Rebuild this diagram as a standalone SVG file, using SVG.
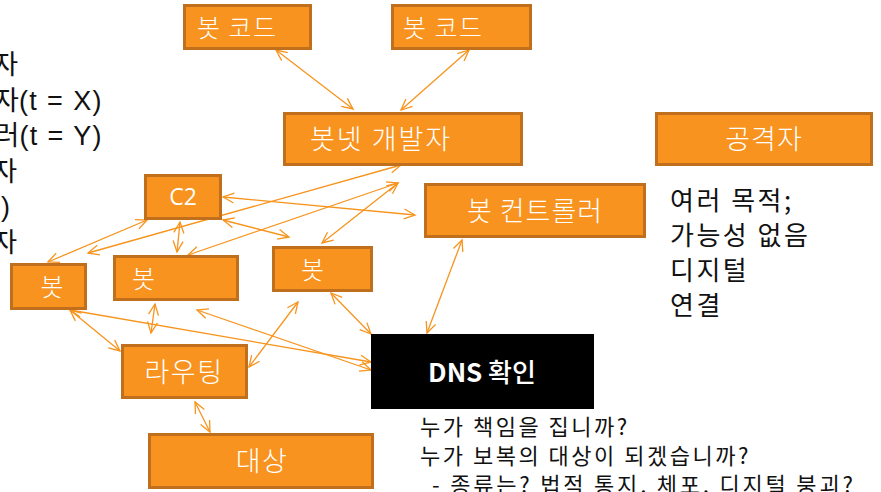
<svg xmlns="http://www.w3.org/2000/svg" width="881" height="492" viewBox="0 0 881 492">
<defs>
<marker id="ah" markerUnits="userSpaceOnUse" markerWidth="14" markerHeight="12" refX="11" refY="5" orient="auto-start-reverse" overflow="visible">
<path d="M0,0 L11,5 L0,10" fill="none" stroke="#F7941D" stroke-width="1.3"/>
</marker>
<style>
.box{fill:#F7931E;stroke:#C06F1C;stroke-width:3}
.lbl{fill:#FFFFFF;font-family:"Noto Sans CJK KR","Noto Sans",sans-serif;font-weight:300}
.blk{fill:#111111;font-family:"Noto Sans CJK KR","Noto Sans",sans-serif}
.side{fill:#111111;font-family:"Liberation Sans","Noto Sans CJK KR",sans-serif;font-size:27px}
.con line{stroke:#F7941D;stroke-width:1.3;fill:none;marker-start:url(#ah);marker-end:url(#ah)}
</style>
</defs>
<rect width="881" height="492" fill="#FFFFFF"/>

<g id="side-text">
<text class="side" x="18" y="74" text-anchor="end">자</text>
<text class="side" x="103" y="109.5" text-anchor="end">자<tspan letter-spacing="1.4">(t = X)</tspan></text>
<text class="side" x="103" y="145" text-anchor="end">러<tspan letter-spacing="1.4">(t = Y)</tspan></text>
<text class="side" x="17" y="180.5" text-anchor="end">자</text>
<text class="side" x="10" y="216" text-anchor="end">)</text>
<text class="side" x="17" y="251.5" text-anchor="end">자</text>
</g>

<g id="connectors" class="con">
<line x1="276" y1="50" x2="353" y2="109"/>
<line x1="469" y1="50" x2="401" y2="110"/>
<line x1="401" y1="165" x2="88" y2="253"/>
<line x1="398" y1="183" x2="188" y2="255"/>
<line x1="398" y1="183" x2="322" y2="243"/>
<line x1="223" y1="197" x2="415" y2="215"/>
<line x1="223" y1="220" x2="289" y2="237"/>
<line x1="180" y1="222" x2="177" y2="252"/>
<line x1="147" y1="220" x2="48" y2="262"/>
<line x1="70" y1="310" x2="120" y2="351"/>
<line x1="70" y1="310" x2="371" y2="362"/>
<line x1="197" y1="310" x2="371" y2="370"/>
<line x1="155" y1="304" x2="151" y2="333"/>
<line x1="298" y1="302" x2="249" y2="367"/>
<line x1="331" y1="293" x2="371" y2="334"/>
<line x1="462" y1="240" x2="427" y2="333"/>
<line x1="195" y1="402" x2="210" y2="432"/>
</g>

<g id="botcode1">
<rect class="box" x="184.5" y="5.5" width="126" height="43"/>
<text class="lbl" x="197" y="36.5" font-size="25" letter-spacing="1.5">봇 코드</text>
</g>
<g id="botcode2">
<rect class="box" x="392.5" y="5.5" width="138" height="43"/>
<text class="lbl" x="403" y="36.5" font-size="25" letter-spacing="1.5">봇 코드</text>
</g>
<g id="botnet-dev">
<rect class="box" x="284.5" y="113.5" width="237" height="51"/>
<text class="lbl" x="310" y="149" font-size="27" letter-spacing="2">봇넷 개발자</text>
</g>
<g id="attacker">
<rect class="box" x="656.5" y="113.5" width="215" height="51"/>
<text class="lbl" x="764" y="149" font-size="27" letter-spacing="1" text-anchor="middle">공격자</text>
</g>
<g id="attacker-notes">
<text class="blk" x="670" y="210" font-size="26" letter-spacing="2.5">여러 목적;</text>
<text class="blk" x="670" y="245" font-size="26" letter-spacing="2.5">가능성 없음</text>
<text class="blk" x="670" y="280" font-size="26" letter-spacing="2.5">디지털</text>
<text class="blk" x="670" y="315" font-size="26" letter-spacing="2.5">연결</text>
</g>
<g id="bot-controller">
<rect class="box" x="425.5" y="184.5" width="219" height="52"/>
<text class="lbl" x="535" y="221" font-size="27" letter-spacing="1" text-anchor="middle">봇 컨트롤러</text>
</g>
<g id="c2">
<rect class="box" x="145.5" y="175.5" width="75" height="43"/>
<text class="lbl" x="183" y="205" font-size="23" text-anchor="middle" style="font-family:'Open Sans','Noto Sans',sans-serif;font-weight:400">C2</text>
</g>
<g id="bot-left">
<rect class="box" x="11.5" y="264.5" width="74" height="44"/>
<text class="lbl" x="52" y="296" font-size="25" text-anchor="middle">봇</text>
</g>
<g id="bot-mid">
<rect class="box" x="114.5" y="256.5" width="123" height="43"/>
<text class="lbl" x="132" y="287.5" font-size="25">봇</text>
</g>
<g id="bot-right">
<rect class="box" x="273.5" y="247.5" width="98" height="43"/>
<text class="lbl" x="301" y="278.5" font-size="25">봇</text>
</g>
<g id="routing">
<rect class="box" x="122.5" y="345.5" width="124" height="52"/>
<text class="lbl" x="184" y="382" font-size="27" letter-spacing="1.5" text-anchor="middle">라우팅</text>
</g>
<g id="target">
<rect class="box" x="149.5" y="434.5" width="223" height="53"/>
<text class="lbl" x="262" y="471" font-size="27" letter-spacing="1.5" text-anchor="middle">대상</text>
</g>
<g id="dns">
<rect x="371" y="334" width="223" height="75" fill="#000000"/>
<text class="lbl" x="482" y="382" font-size="26" text-anchor="middle"><tspan font-weight="bold">DNS</tspan> <tspan font-weight="500">확인</tspan></text>
</g>
<g id="dns-notes">
<text class="blk" x="420" y="435" font-size="22" letter-spacing="2.5">누가 책임을 집니까?</text>
<text class="blk" x="420" y="464" font-size="22" letter-spacing="2.5">누가 보복의 대상이 되겠습니까?</text>
<text class="blk" x="432" y="493" font-size="22" letter-spacing="2.8">- 종류는? 법적 통지, 체포,  디지털 붕괴?</text>
</g>
</svg>
